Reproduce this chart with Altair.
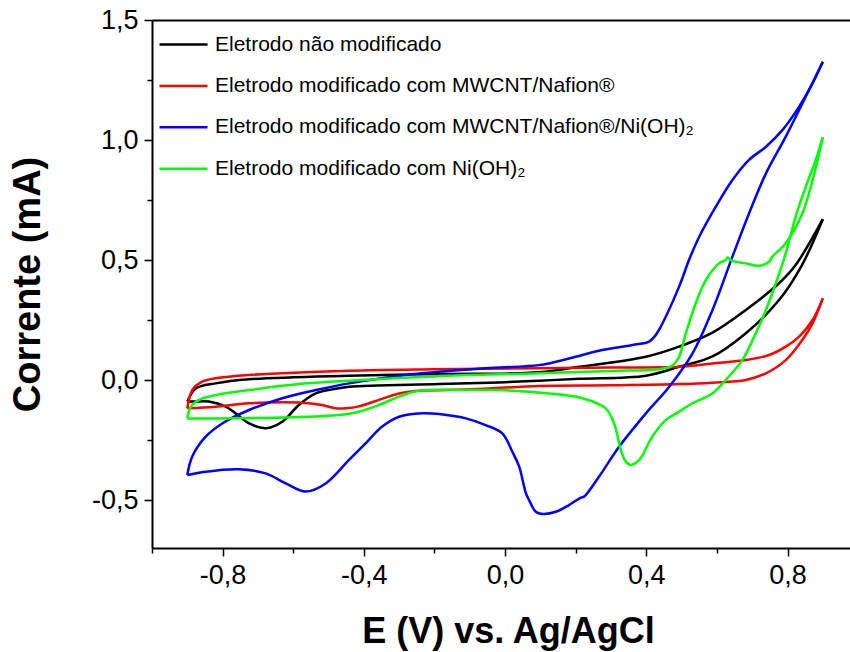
import altair as alt
import pandas as pd

labels = [
    "Eletrodo não modificado",
    "Eletrodo modificado com MWCNT/Nafion®",
    "Eletrodo modificado com MWCNT/Nafion®/Ni(OH)₂",
    "Eletrodo modificado com Ni(OH)₂",
]
colors = ["#000000", "#ff0000", "#0000ff", "#00ff00"]

black_E = [-0.90, -0.876, -0.82, -0.725, -0.442, -0.187, 0.096, 0.21, 0.399, 0.493, 0.586, 0.682, 0.776, 0.823, 0.90,
           0.841, 0.776, 0.682, 0.586, 0.493, 0.399, 0.21, 0.096, -0.017, -0.187, -0.442, -0.489, -0.536, -0.584,
           -0.631, -0.678, -0.725, -0.763, -0.791, -0.839, -0.878, -0.90]
black_I = [-0.09, -0.035, -0.014, 0.003, 0.018, 0.025, 0.032, 0.055, 0.097, 0.139, 0.196, 0.292, 0.403, 0.479, 0.67,
           0.479, 0.333, 0.195, 0.097, 0.055, 0.018, 0.005, -0.003, -0.01, -0.017, -0.028, -0.039, -0.056, -0.104,
           -0.174, -0.201, -0.181, -0.139, -0.111, -0.09, -0.09, -0.09]

red_E = [-0.90, -0.886, -0.858, -0.82, -0.725, -0.442, -0.2, 0.096, 0.3, 0.493, 0.587, 0.682, 0.748, 0.795, 0.833,
         0.871, 0.90, 0.871, 0.842, 0.795, 0.739, 0.682, 0.587, 0.493, 0.3, 0.096, -0.093, -0.244, -0.3, -0.357,
         -0.414, -0.451, -0.48, -0.518, -0.584, -0.725, -0.82, -0.90]
red_I = [-0.118, -0.042, -0.007, 0.007, 0.021, 0.039, 0.045, 0.049, 0.052, 0.055, 0.069, 0.083, 0.104, 0.139, 0.181,
         0.25, 0.34, 0.236, 0.167, 0.083, 0.028, 0.0, -0.011, -0.017, -0.022, -0.025, -0.039, -0.045, -0.056, -0.083,
         -0.11, -0.118, -0.118, -0.104, -0.094, -0.097, -0.111, -0.118]

blue_E = [-0.90, -0.886, -0.848, -0.801, -0.725, -0.631, -0.536, -0.442, -0.281, -0.093, 0.096, 0.125, 0.219, 0.266,
          0.361, 0.408, 0.427, 0.441, 0.493, 0.521, 0.55, 0.597, 0.644, 0.691, 0.739, 0.786, 0.833, 0.871, 0.90,
          0.795, 0.739, 0.691, 0.644, 0.587, 0.531, 0.465, 0.399, 0.323, 0.266, 0.224, 0.215, 0.181, 0.144, 0.106,
          0.087, 0.068, 0.059, 0.04, 0.021, -0.008, -0.055, -0.111, -0.187, -0.234, -0.3, -0.348, -0.395, -0.442,
          -0.508, -0.565, -0.621, -0.678, -0.754, -0.848, -0.90]
blue_I = [-0.396, -0.319, -0.236, -0.181, -0.125, -0.076, -0.042, -0.014, 0.021, 0.045, 0.062, 0.069, 0.104, 0.122,
          0.146, 0.16, 0.188, 0.222, 0.389, 0.5, 0.597, 0.722, 0.833, 0.917, 0.972, 1.042, 1.139, 1.236, 1.326,
          1.014, 0.861, 0.694, 0.514, 0.29, 0.111, -0.028, -0.139, -0.278, -0.403, -0.486, -0.49, -0.521, -0.549,
          -0.558, -0.549, -0.5, -0.472, -0.361, -0.3, -0.222, -0.188, -0.16, -0.142, -0.139, -0.153, -0.194, -0.264,
          -0.333, -0.431, -0.465, -0.431, -0.389, -0.372, -0.382, -0.396]

green_E = [-0.90, -0.89, -0.867, -0.82, -0.725, -0.584, -0.442, -0.2, 0.096, 0.3, 0.436, 0.474, 0.493, 0.512, 0.54,
           0.569, 0.606, 0.625, 0.63, 0.644, 0.682, 0.72, 0.748, 0.757, 0.795, 0.842, 0.871, 0.90,
           0.88, 0.852, 0.823, 0.795, 0.767, 0.739, 0.71, 0.672, 0.625, 0.587, 0.531, 0.493, 0.455, 0.417, 0.38,
           0.356, 0.342, 0.328, 0.309, 0.285, 0.219, 0.125, -0.017, -0.093, -0.244, -0.3, -0.357, -0.414, -0.47,
           -0.631, -0.82, -0.90]
green_I = [-0.16, -0.111, -0.083, -0.063, -0.042, -0.017, -0.003, 0.015, 0.028, 0.038, 0.045, 0.06, 0.097, 0.194,
           0.319, 0.417, 0.486, 0.50, 0.51, 0.496, 0.486, 0.476, 0.493, 0.514, 0.57, 0.694, 0.833, 1.011,
           0.917, 0.806, 0.68, 0.528, 0.403, 0.292, 0.194, 0.083, 0.0, -0.056, -0.097, -0.132, -0.167, -0.236, -0.333,
           -0.354, -0.34, -0.292, -0.181, -0.118, -0.076, -0.056, -0.042, -0.042, -0.045, -0.069, -0.104, -0.132,
           -0.146, -0.156, -0.16, -0.16]

x_ticks = [-1.0, -0.8, -0.6, -0.4, -0.2, 0.0, 0.2, 0.4, 0.6, 0.8]
y_ticks = [-0.5, -0.25, 0.0, 0.25, 0.5, 0.75, 1.0, 1.25, 1.5]

# Each cyclic voltammogram is split at its anodic vertex into a forward and a reverse sweep
rows = []
for lab, E, I in zip(labels, [black_E, red_E, blue_E, green_E], [black_I, red_I, blue_I, green_I]):
    tip = E.index(max(E))
    for k, (e, i) in enumerate(zip(E, I)):
        if k <= tip:
            rows.append({"serie": lab, "seg": lab + "|f", "k": k, "E": e, "I": i})
        if k >= tip:
            rows.append({"serie": lab, "seg": lab + "|r", "k": k, "E": e, "I": i})
df = pd.DataFrame(rows)

FONT = "Liberation Sans"
xmajor = "abs(round(datum.value/0.4) - datum.value/0.4) < 0.001"
ymajor = "abs(round(datum.value*2) - datum.value*2) < 0.001"


def lab_expr(test):
    return f"({test}) ? replace(replace(format(datum.value, '.1f'), '.', ','), '\u2212', '-') : ''"


xscale = alt.Scale(domain=[-1.0, 0.977], nice=False, zero=False)
yscale = alt.Scale(domain=[-0.7, 1.5], nice=False, zero=False)

x_axis = alt.Axis(
    values=x_ticks, labelExpr=lab_expr(xmajor), grid=False,
    tickSize={"condition": {"test": xmajor, "value": 8}, "value": 5},
    tickWidth=1.5, tickColor="black", domainColor="black", domainWidth=2,
    labelFont=FONT, labelFontSize=27, labelColor="black", labelPadding=6,
    labelFlush=False, labelOverlap=False,
    title="E (V) vs. Ag/AgCl", titleFont=FONT, titleFontSize=36, titleFontWeight="bold",
    titleColor="black", titlePadding=26, titleX=356,
)
y_axis = alt.Axis(
    values=y_ticks, labelExpr=lab_expr(ymajor), grid=False,
    tickSize={"condition": {"test": ymajor, "value": 8}, "value": 5},
    tickWidth=1.5, tickColor="black", domainColor="black", domainWidth=2,
    labelFont=FONT, labelFontSize=27, labelColor="black", labelPadding=6,
    labelFlush=False, labelOverlap=False,
    title="Corrente (mA)", titleFont=FONT, titleFontSize=38, titleFontWeight="bold",
    titleColor="black", titlePadding=44,
)

lines = alt.Chart(df).mark_line(strokeWidth=2.5, clip=True, interpolate="catmull-rom").encode(
    x=alt.X("E:Q", scale=xscale, axis=x_axis),
    y=alt.Y("I:Q", scale=yscale, axis=y_axis),
    color=alt.Color(
        "serie:N",
        scale=alt.Scale(domain=labels, range=colors),
        legend=alt.Legend(
            orient="none", legendX=6, legendY=-1, title=None,
            symbolType="stroke", symbolSize=2304, symbolStrokeWidth=2.5,
            labelFont=FONT, labelFontSize=21, labelColor="black", labelLimit=800,
            labelOffset=6, rowPadding=5.4, padding=0,
        ),
    ),
    detail="seg:N",
    order=alt.Order("k:Q"),
)

top = alt.Chart(df).mark_line(opacity=0).encode(
    x=alt.X("E:Q", scale=xscale,
            axis=alt.Axis(orient="top", labels=False, ticks=False, title=None, grid=False,
                          domainColor="black", domainWidth=2)),
    y=alt.Y("I:Q", scale=yscale),
    detail="seg:N",
    order=alt.Order("k:Q"),
)

chart = alt.layer(lines, top).resolve_axis(x="independent").properties(
    width=698, height=528,
    padding={"left": 152, "top": 20, "right": 0, "bottom": 104},
    autosize=alt.AutoSizeParams(type="none"),
).configure_view(stroke="transparent").configure(background="white")

chart.save("out.html", embed_options={"renderer": "svg", "actions": False})
